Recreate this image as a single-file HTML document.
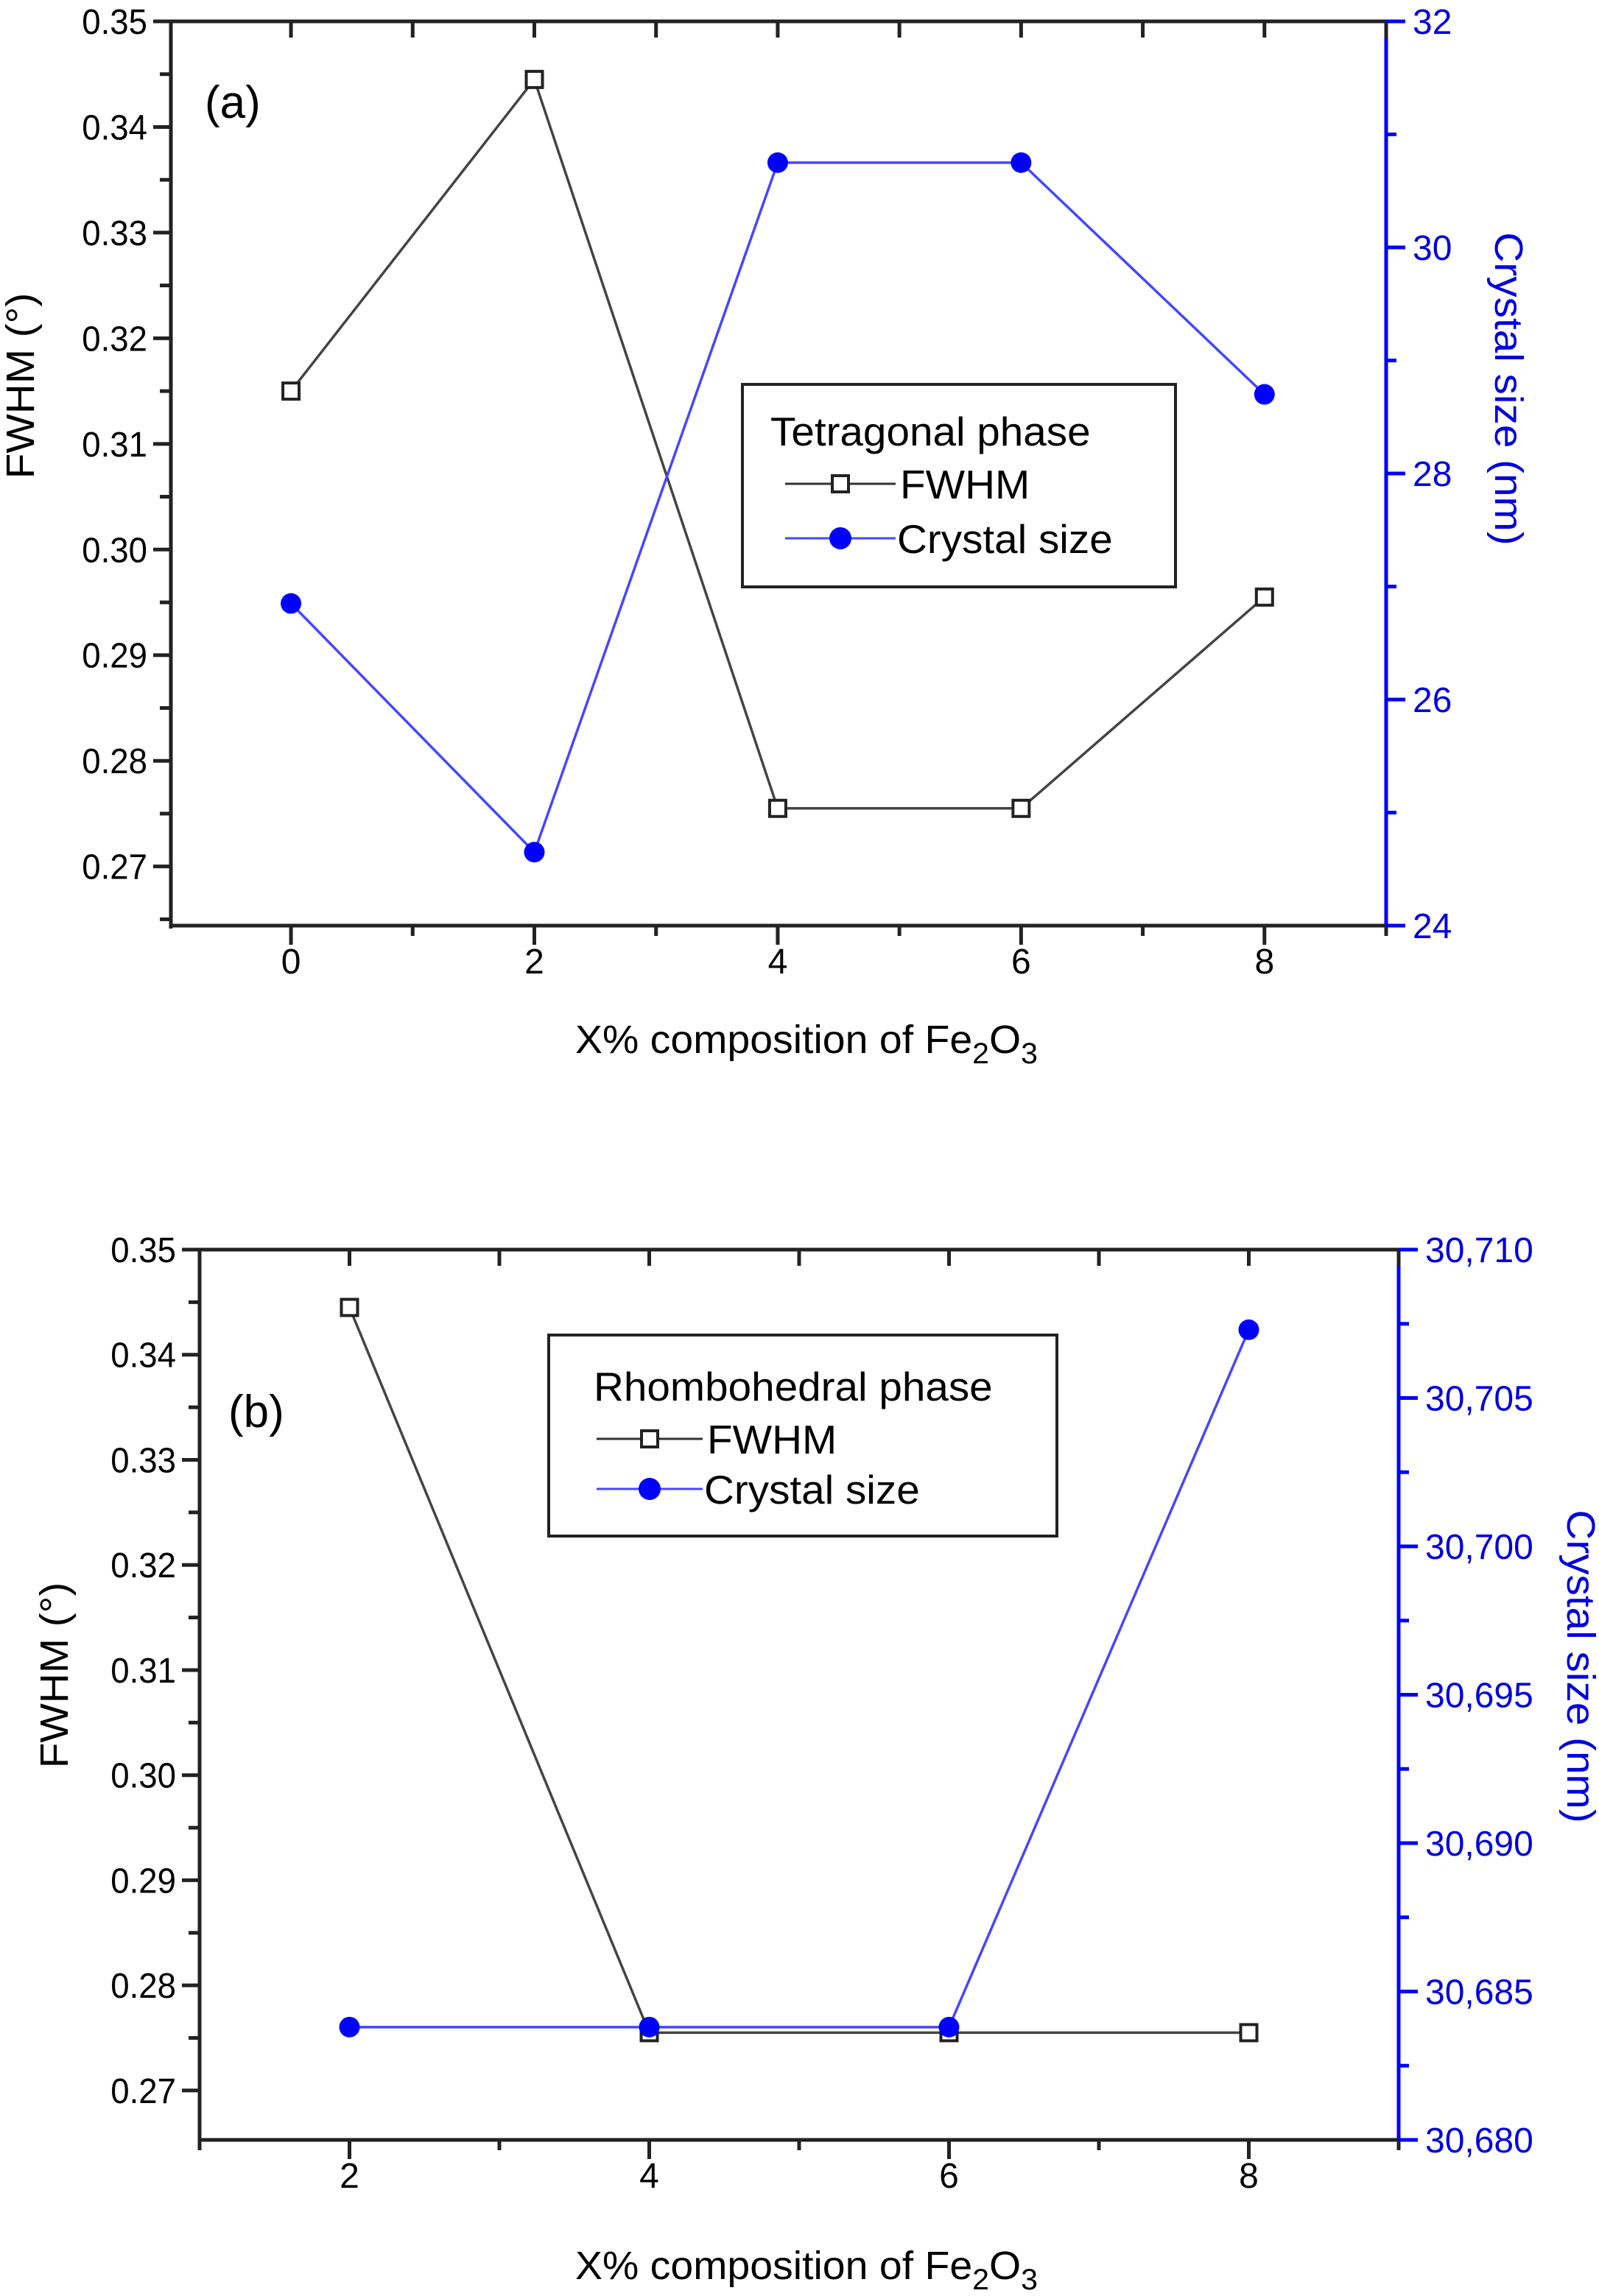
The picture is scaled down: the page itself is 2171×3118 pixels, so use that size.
<!DOCTYPE html>
<html><head><meta charset="utf-8"><style>html,body{margin:0;padding:0;background:#fff}svg{display:block}</style></head>
<body>
<svg id="chart" xmlns="http://www.w3.org/2000/svg" width="2171" height="3118" viewBox="0 0 2171 3118" font-family="Liberation Sans, Arial, sans-serif"></svg>
<script>
// Panel (a) data
const aX = [0, 2, 4, 6, 8];
const aFwhm = [0.315, 0.3445, 0.2755, 0.2755, 0.2955];
const aCrystal = [26.85, 24.65, 30.75, 30.75, 28.7];
const aLeftTicks = ["0.27","0.28","0.29","0.30","0.31","0.32","0.33","0.34","0.35"];
const aRightTicks = ["24","26","28","30","32"];
const aXTicks = ["0","2","4","6","8"];
// Panel (b) data
const bX = [2, 4, 6, 8];
const bFwhm = [0.3445, 0.2755, 0.2755, 0.2755];
const bCrystal = [30683.8, 30683.8, 30683.8, 30707.3];
const bLeftTicks = ["0.27","0.28","0.29","0.30","0.31","0.32","0.33","0.34","0.35"];
const bRightTicks = ["30,680","30,685","30,690","30,695","30,700","30,705","30,710"];
const bXTicks = ["2","4","6","8"];

const svg = document.getElementById('chart');
const NS = 'http://www.w3.org/2000/svg';
function el(tag, attrs, parent){ const e=document.createElementNS(NS,tag); for(const k in attrs) e.setAttribute(k,attrs[k]); (parent||svg).appendChild(e); return e; }
function txt(x,y,s,size,anchor,color,sx,parent,rot){
  const t=el('text',{'font-size':size,'text-anchor':anchor,fill:color,transform:`translate(${x},${y}) ${rot?'rotate('+rot+')':''} scale(${sx},1)`},parent);
  t.textContent=s; return t;
}
const BLUE='#0000ff', TBLUE='#0000dd', LBLUE='#4646ff';

function panel(cfg){
  const g=el('g',{});
  
  
  const {L,R,T,B,xmin,xmax,ymin,ymax,r0,r1}=cfg;
  const sx=v=>L+(v-xmin)/(xmax-xmin)*(R-L);
  const sy=v=>B-(v-ymin)/(ymax-ymin)*(B-T);
  const sr=v=>B-(v-r0)/(r1-r0)*(B-T);
  el('line',{x1:L,y1:T,x2:R,y2:T,stroke:'#222','stroke-width':5},g);
  el('line',{x1:L,y1:B,x2:R,y2:B,stroke:'#222','stroke-width':5},g);
  el('line',{x1:L,y1:T,x2:L,y2:B+4,stroke:'#222','stroke-width':5},g);
  el('line',{x1:R,y1:T,x2:R,y2:B,stroke:BLUE,'stroke-width':5},g);
  el('line',{x1:R,y1:B-2,x2:R,y2:B+12,stroke:'#222','stroke-width':5},g);
  for(let v=Math.ceil(xmin-1e-6); v<=xmax+1e-6; v++){
    const x=sx(v), major=(v%2===0);
    el('line',{x1:x,y1:B,x2:x,y2:B+(major?26:14),stroke:'#222','stroke-width':5},g);
    el('line',{x1:x,y1:T,x2:x,y2:T+22,stroke:'#222','stroke-width':5},g);
  }
  cfg.xt.forEach(s=>{ const v=parseFloat(s); const t=txt(sx(v),B+65,s,48,'middle','#000',1,g);
      });
  cfg.lt.forEach((s,i)=>{
    const v=parseFloat(s), y=sy(v);
    el('line',{x1:L-24,y1:y,x2:L,y2:y,stroke:'#222','stroke-width':5},g);
    const ym=sy(v-0.005); if(ym<B-2) el('line',{x1:L-15,y1:ym,x2:L,y2:ym,stroke:'#222','stroke-width':5},g);
    const t=txt(L-32,y+17,s,48,'end','#000',0.95,g);
     
  });
  cfg.rt.forEach((s,i)=>{
    const v=parseFloat(s.replace(',','')), y=sr(v);
    el('line',{x1:R,y1:y,x2:R+26,y2:y,stroke:BLUE,'stroke-width':5},g);
    const ym=sr(v+cfg.rstep/2); if(ym>T+2) el('line',{x1:R,y1:ym,x2:R+14,y2:ym,stroke:BLUE,'stroke-width':5},g);
    const t=txt(R+36,y+17,s,48,'start',TBLUE,1,g);
     
  });
  const fp=cfg.x.map((v,i)=>`${sx(v)},${sy(cfg.f[i])}`).join(' ');
  const fl=el('polyline',{points:fp,fill:'none',stroke:'#444','stroke-width':3.5},g);
   
  const cp=cfg.x.map((v,i)=>`${sx(v)},${sr(cfg.c[i])}`).join(' ');
  const cl=el('polyline',{points:cp,fill:'none',stroke:LBLUE,'stroke-width':3.5},g);
   
  cfg.x.forEach((v,i)=>{
    const r=el('rect',{x:sx(v)-11,y:sy(cfg.f[i])-11,width:22,height:22,fill:'#fff',stroke:'#222','stroke-width':4},g);
     
    const c=el('circle',{cx:sx(v),cy:sr(cfg.c[i]),r:14,fill:BLUE},g);
     
  });
  const xt=el('text',{x:cfg.xtx,y:cfg.xty,'font-size':54,'text-anchor':'middle',fill:'#000',textLength:628,lengthAdjust:'spacingAndGlyphs'},g);
  xt.innerHTML='X% composition of Fe<tspan font-size="40" dy="14">2</tspan><tspan dy="-14">O</tspan><tspan font-size="40" dy="14">3</tspan>';
   
  const lt=txt(cfg.lty[0],cfg.lty[1],'FWHM (°)',54,'middle','#000',1.05,g,-90);
   
  const rtt=txt(cfg.rty[0],cfg.rty[1],'Crystal size (nm)',54,'middle',TBLUE,1.05,g,90);
   
  const pl=txt(cfg.pl[0],cfg.pl[1],cfg.plabel,62,'start','#000',1,g);
   
  const lg=cfg.lg;
  const leg=el('g',{},g);
   
  el('rect',{x:lg.x,y:lg.y,width:lg.w,height:lg.h,fill:'#fff',stroke:'#222','stroke-width':4},leg);
  txt(lg.tx,lg.ty,lg.title,55,'start','#000',1.03,leg);
  el('line',{x1:lg.l0,y1:lg.r1,x2:lg.l1,y2:lg.r1,stroke:'#333','stroke-width':3},leg);
  el('rect',{x:(lg.l0+lg.l1)/2-11,y:lg.r1-11,width:22,height:22,fill:'#fff',stroke:'#222','stroke-width':4},leg);
  txt(lg.l1+6,lg.r1+20,'FWHM',55,'start','#000',1.03,leg);
  el('line',{x1:lg.l0,y1:lg.r2,x2:lg.l1,y2:lg.r2,stroke:LBLUE,'stroke-width':3},leg);
  el('circle',{cx:(lg.l0+lg.l1)/2,cy:lg.r2,r:15,fill:BLUE},leg);
  txt(lg.l1+2,lg.r2+20,'Crystal size',55,'start','#000',1.03,leg);
}

panel({name:'panel-a',L:232,R:1882,T:29,B:1257,xmin:-0.987,xmax:9.0,ymin:0.2644,ymax:0.35,r0:24,r1:32,rstep:2,
  x:aX,f:aFwhm,c:aCrystal,lt:aLeftTicks,rt:aRightTicks,xt:aXTicks,
  xtx:1095,xty:1430,lty:[46,524],rty:[2030,528],pl:[278,160],plabel:'(a)',
  lg:{x:1008,y:522,w:588,h:275,title:'Tetragonal phase',tx:1046,ty:605,l0:1066,l1:1216,r1:657,r2:731}});
panel({name:'panel-b',L:271,R:1899,T:1697,B:2906,xmin:1,xmax:9,ymin:0.2653,ymax:0.35,r0:30680,r1:30710,rstep:5,
  x:bX,f:bFwhm,c:bCrystal,lt:bLeftTicks,rt:bRightTicks,xt:bXTicks,
  xtx:1095,xty:3095,lty:[92,2275],rty:[2128,2263],pl:[310,1938],plabel:'(b)',
  lg:{x:745,y:1813,w:690,h:273,title:'Rhombohedral phase',tx:806,ty:1902,l0:810,l1:954,r1:1954,r2:2022}});
</script>
</body></html>
